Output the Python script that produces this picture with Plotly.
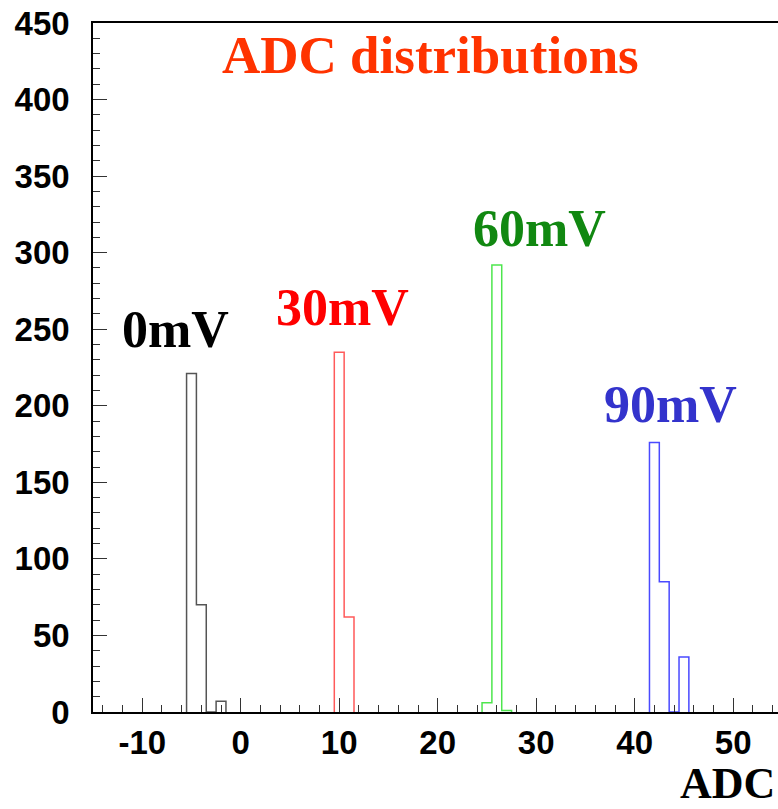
import plotly.graph_objects as go

# ---- data (bin centers in ADC counts, entries per bin) ----
bins_0mV = [-5, -4, -3, -2]
counts_0mV = [221, 70, 0, 7]
bins_30mV = [10, 11]
counts_30mV = [235, 62]
bins_60mV = [25, 26, 27]
counts_60mV = [6, 292, 1]
bins_90mV = [42, 43, 44, 45]
counts_90mV = [176, 85, 0, 36]

series_names = ["0mV", "30mV", "60mV", "90mV"]
series_colors = ["#555555", "#ff5a5a", "#4ee64e", "#4a4aff"]
label_colors = ["#000000", "#ff0000", "#118811", "#3333cc"]
label_x = [-6.6, 10.3, 30.3, 43.6]
label_y = [250, 264, 316, 201]

x_tickvals = [-10, 0, 10, 20, 30, 40, 50]
x_ticktext = ["-10", "0", "10", "20", "30", "40", "50"]
y_tickvals = [0, 50, 100, 150, 200, 250, 300, 350, 400, 450]

BIN_W = 1.0


def outline(centers, counts):
    xs = [centers[0] - BIN_W / 2]
    ys = [0]
    for c, v in zip(centers, counts):
        xs.append(c - BIN_W / 2)
        ys.append(v)
    xs.append(centers[-1] + BIN_W / 2)
    ys.append(0)
    return xs, ys


fig = go.Figure()
all_bins = [bins_0mV, bins_30mV, bins_60mV, bins_90mV]
all_counts = [counts_0mV, counts_30mV, counts_60mV, counts_90mV]
for name, b, c, col in zip(series_names, all_bins, all_counts, series_colors):
    xs, ys = outline(b, c)
    fig.add_trace(go.Scatter(x=xs, y=ys, mode="lines", line_shape="hv",
                             line=dict(color=col, width=1.5), name=name,
                             showlegend=False, hoverinfo="skip"))

for name, lx, ly, col in zip(series_names, label_x, label_y, label_colors):
    fig.add_annotation(x=lx, y=ly, xref="x", yref="y", text=name, showarrow=False,
                       font=dict(family="Liberation Serif", size=52, color=col, weight="bold"),
                       xanchor="center", yanchor="middle")

fig.add_annotation(x=19.3, y=429, xref="x", yref="y", text="ADC distributions",
                   showarrow=False,
                   font=dict(family="Liberation Serif", size=53, color="#ff3300", weight="bold"),
                   xanchor="center", yanchor="middle")

fig.add_annotation(x=1, y=0, xref="paper", yref="paper", text="ADC", showarrow=False,
                   font=dict(family="Liberation Serif", size=44, color="#000000", weight="bold"),
                   xanchor="right", yanchor="bottom", yshift=-97, xshift=-2, borderpad=0)

tickfont = dict(family="Liberation Sans", size=33, color="#000000", weight="bold")

fig.update_xaxes(range=[-15, 54.55], tickvals=x_tickvals, ticktext=x_ticktext,
                 ticks="inside", ticklen=14, tickwidth=1, tickcolor="#333333",
                 minor=dict(dtick=2, tick0=0, ticks="inside", ticklen=7, tickwidth=1,
                            tickcolor="#333333", showgrid=False),
                 showline=True, linecolor="#000000", linewidth=2, mirror=True,
                 showgrid=False, zeroline=False, tickfont=tickfont,
                 ticklabelstandoff=0)
fig.update_yaxes(range=[0, 450], tickvals=y_tickvals,
                 ticks="inside", ticklen=14, tickwidth=1, tickcolor="#333333",
                 minor=dict(dtick=10, tick0=0, ticks="inside", ticklen=7, tickwidth=1,
                            tickcolor="#333333", showgrid=False),
                 showline=True, linecolor="#000000", linewidth=1.5,
                 showgrid=False, zeroline=False, tickfont=tickfont,
                 ticklabelstandoff=15)

fig.update_layout(width=778, height=809, margin=dict(l=93, r=0, t=23, b=97),
                  plot_bgcolor="#ffffff", paper_bgcolor="#ffffff", showlegend=False)

fig.write_html("out.html")
